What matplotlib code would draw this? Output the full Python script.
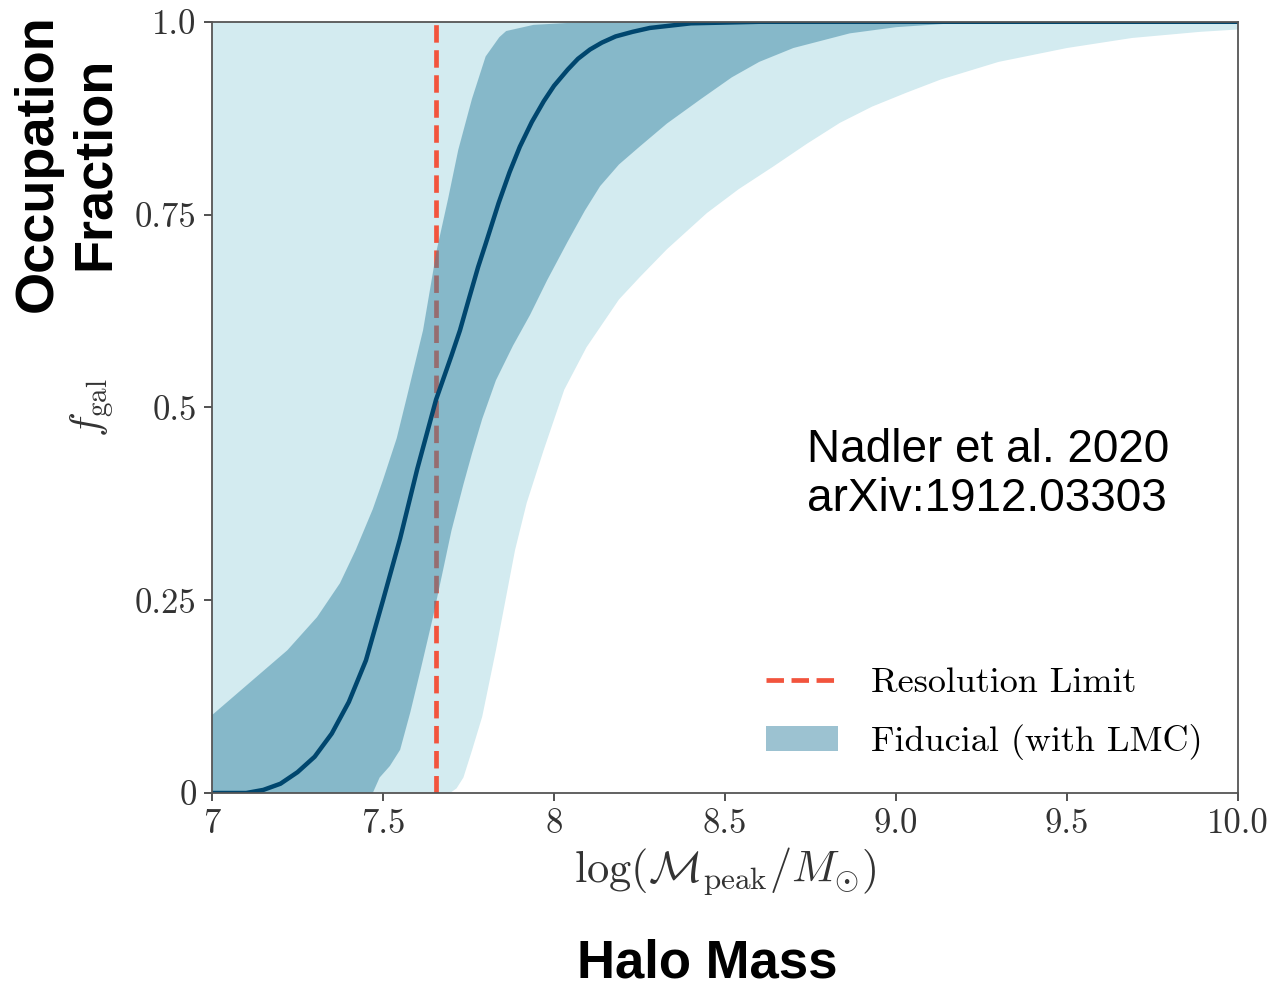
import matplotlib
matplotlib.use("Agg")
import matplotlib.pyplot as plt

# ---------- Data ----------
res_limit = 7.655

median_x = [7.0, 7.10, 7.15, 7.20, 7.25, 7.30, 7.35, 7.40, 7.45, 7.50, 7.55, 7.60, 7.655,
            7.70, 7.725, 7.75, 7.778, 7.80, 7.838, 7.87, 7.90, 7.935, 7.97, 8.00, 8.04,
            8.07, 8.105, 8.14, 8.18, 8.23, 8.28, 8.34, 8.40, 8.50, 8.60, 10.0]
median_y = [0.0, 0.0, 0.004, 0.012, 0.027, 0.047, 0.077, 0.118, 0.172, 0.25, 0.33, 0.42, 0.51,
            0.567, 0.60, 0.639, 0.682, 0.712, 0.765, 0.805, 0.838, 0.87, 0.897, 0.917, 0.938,
            0.952, 0.964, 0.973, 0.981, 0.987, 0.992, 0.995, 0.998, 0.999, 1.0, 1.0]

# 68% band
dark_hi_x = [7.0, 7.11, 7.22, 7.307, 7.374, 7.42, 7.47, 7.50, 7.54, 7.57, 7.617, 7.657,
             7.69, 7.72, 7.76, 7.80, 7.84, 7.86, 7.94, 8.1, 10.0]
dark_hi_y = [0.101, 0.143, 0.185, 0.228, 0.272, 0.315, 0.368, 0.406, 0.46, 0.514, 0.60, 0.704,
             0.77, 0.834, 0.90, 0.955, 0.98, 0.988, 0.996, 1.0, 1.0]
dark_lo_x = [7.0, 7.47, 7.49, 7.52, 7.55, 7.58, 7.61, 7.646, 7.676, 7.70, 7.735, 7.76, 7.79,
             7.83, 7.88, 7.93, 7.98, 8.04, 8.09, 8.135, 8.19, 8.25, 8.33, 8.43, 8.52, 8.60,
             8.70, 8.865, 9.0, 9.2, 10.0]
dark_lo_y = [0.0, 0.0, 0.02, 0.035, 0.056, 0.105, 0.16, 0.228, 0.29, 0.34, 0.40, 0.44, 0.485,
             0.535, 0.58, 0.62, 0.665, 0.715, 0.755, 0.787, 0.815, 0.838, 0.868, 0.90, 0.928, 0.948,
             0.966, 0.985, 0.993, 0.999, 1.0]

# 95% band
light_hi_x = [7.0, 10.0]
light_hi_y = [1.0, 1.0]
light_lo_x = [7.0, 7.696, 7.715, 7.735, 7.76, 7.79, 7.83, 7.886, 7.92, 7.97, 8.03, 8.095,
              8.19, 8.251, 8.33, 8.447, 8.54, 8.64, 8.74, 8.836, 8.93, 9.03, 9.13, 9.30,
              9.50, 9.69, 9.89, 10.0]
light_lo_y = [0.0, 0.0, 0.006, 0.02, 0.055, 0.099, 0.185, 0.315, 0.376, 0.445, 0.523, 0.578,
              0.64, 0.669, 0.705, 0.752, 0.783, 0.812, 0.842, 0.869, 0.89, 0.908, 0.925, 0.948,
              0.966, 0.979, 0.987, 0.99]

x_ticks = [7, 7.5, 8, 8.5, 9.0, 9.5, 10.0]
x_ticklabels = ["7", "7.5", "8", "8.5", "9.0", "9.5", "10.0"]
y_ticks = [0, 0.25, 0.5, 0.75, 1.0]
y_ticklabels = ["0", "0.25", "0.5", "0.75", "1.0"]

# ---------- Style ----------
plt.rcParams["font.family"] = "serif"
plt.rcParams["font.serif"] = ["cmr10"]
plt.rcParams["mathtext.fontset"] = "cm"
plt.rcParams["axes.unicode_minus"] = False

LIGHT = "#d3ebf0"
DARK = "#3b87a4"
LINE = "#00466e"
RED = "#f2543d"
SPINE = "#555555"

fig = plt.figure(figsize=(12.75, 9.9), dpi=100)
ax = fig.add_axes([0.1663, 0.199, 0.8047, 0.779])

ax.fill(light_hi_x + light_lo_x[::-1], light_hi_y + light_lo_y[::-1],
        color=LIGHT, lw=0, zorder=1)
res = ax.axvline(res_limit, color=RED, ls="--", lw=3.4, zorder=2, label="Resolution Limit")
dark = ax.fill(dark_hi_x + dark_lo_x[::-1], dark_hi_y + dark_lo_y[::-1],
               color=DARK, alpha=0.5, lw=0, zorder=3, label="Fiducial (with LMC)")[0]
ax.plot(median_x, median_y, color=LINE, lw=3.2, zorder=4,
        solid_capstyle="butt", solid_joinstyle="round")

ax.set_xlim(7, 10)
ax.set_ylim(0, 1)
ax.set_xticks(x_ticks)
ax.set_xticklabels(x_ticklabels)
ax.set_yticks(y_ticks)
ax.set_yticklabels(y_ticklabels)
ax.tick_params(direction="out", length=6, width=1.2, pad=5, labelsize=25,
               colors="#333333", top=False, right=False)
for s in ax.spines.values():
    s.set_color(SPINE)
    s.set_linewidth(1.3)
    s.set_zorder(5)

ax.set_xlabel(r"$\log(\mathcal{M}_{\rm peak}/M_{\odot})$", fontsize=32, color="#333333", labelpad=4)
ax.set_ylabel(r"$f_{\rm gal}$", fontsize=30, color="#333333", labelpad=14)

ax.legend(handles=[res, dark], loc="lower right", frameon=False, fontsize=26,
          handlelength=2.0, handletextpad=0.9, labelspacing=0.7,
          bbox_to_anchor=(0.997, 0.0))

# Overlay annotations
sans = ["Liberation Sans", "DejaVu Sans"]
fig.text(0.052, 0.835, "Occupation\nFraction", rotation=90, ha="center", va="center",
         fontsize=39, fontweight="bold", family=sans, multialignment="center",
         linespacing=1.2)
fig.text(0.555, 0.002, "Halo Mass", ha="center", va="bottom",
         fontsize=38, fontweight="bold", family=sans)
fig.text(0.633, 0.568, "Nadler et al. 2020\narXiv:1912.03303", ha="left", va="top",
         fontsize=33, family=sans, linespacing=1.15)

fig.savefig("out.png", dpi=100)
